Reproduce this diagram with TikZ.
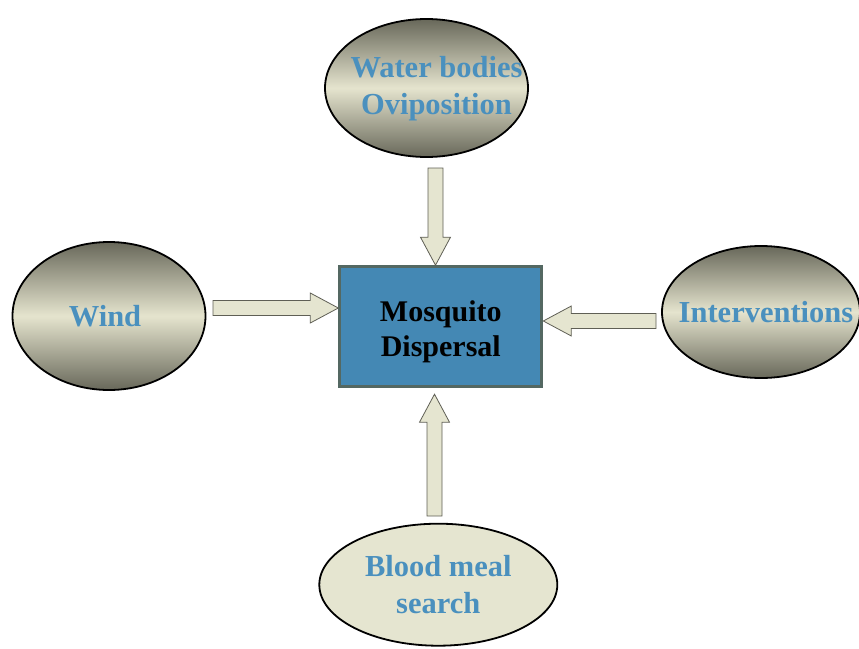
\documentclass[tikz,border=0pt]{standalone}
\usepackage{fontspec}
\setmainfont{Liberation Serif}
\usetikzlibrary{positioning, calc, shapes.geometric}
\definecolor{mdark}{RGB}{104,104,90}
\definecolor{mlight}{RGB}{229,228,206}
\definecolor{mcream}{RGB}{229,229,208}
\definecolor{mbox}{RGB}{68,136,180}
\definecolor{mrim}{RGB}{84,104,98}
\definecolor{mtext}{RGB}{74,144,190}
\definecolor{medge}{RGB}{95,95,85}

% block arrow from #1 (tail) to #2 (tip)
\newcommand{\fatarrow}[2]{%
  \coordinate (fa-h) at ($(#2)!28pt!(#1)$);
  \draw[fatarrow] ($(#1)!7.5pt!90:(#2)$) -- ($(fa-h)!7.5pt!-90:(#1)$)
    -- ($(fa-h)!15pt!-90:(#1)$) -- (#2) -- ($(fa-h)!15pt!90:(#1)$)
    -- ($(fa-h)!7.5pt!90:(#1)$) -- ($(#1)!7.5pt!-90:(#2)$) -- cycle;}

\begin{document}
\begin{tikzpicture}[x=1pt, y=-1pt,
    factor/.style={ellipse, draw=black, line width=1.8pt, inner sep=0pt},
    shaded/.style={factor, top color=mdark, bottom color=mdark, middle color=mlight},
    flat/.style={factor, fill=mcream},
    lbl/.style={align=center, text=mtext, font=\bfseries\fontsize{30.5}{37}\selectfont},
    fatarrow/.style={fill=mcream, draw=medge, line width=0.8pt},
    hub/.style={draw=mrim, fill=mbox, line width=3pt, minimum width=202pt,
      minimum height=120pt},
    hubtext/.style={align=center, font=\bfseries\fontsize{30}{35}\selectfont}]
  \useasboundingbox (0,0) rectangle (859,648);

  % the four factors
  \node[shaded, minimum width=203pt, minimum height=138pt,
    label={[lbl, xshift=10pt, yshift=-1pt]center:{Water bodies\\Oviposition}}] (water) at (426.5,88) {};
  \node[shaded, minimum width=193pt, minimum height=148pt,
    label={[lbl, xshift=-4pt]center:Wind}] (wind) at (109,316) {};
  \node[shaded, minimum width=198pt, minimum height=132pt,
    label={[lbl, xshift=5pt]center:Interventions}] (interv) at (761,312) {};
  \node[flat, minimum width=238pt, minimum height=122pt,
    label={[lbl]center:{Blood meal\\search}}] (blood) at (438.3,584.7) {};

  % the hub
  \node[hub, label={[hubtext, yshift=-5pt]center:{Mosquito\\Dispersal}}] (box) at (440.8,326.7) {};

  % arrow ends
  \coordinate (watertail) at (435.5,168);
  \coordinate (watertip) at (watertail |- box.north);
  \coordinate (windtail) at (213,308);
  \coordinate (windtip) at (windtail -| box.west);
  \coordinate (inttail) at (656,321);
  \coordinate (inttip) at (inttail -| box.east);
  \coordinate (bloodtail) at (434.5,516);
  \coordinate (bloodtip) at ([yshift=-6pt]bloodtail |- box.south);

  \fatarrow{watertail}{watertip}
  \fatarrow{windtail}{windtip}
  \fatarrow{inttail}{inttip}
  \fatarrow{bloodtail}{bloodtip}
\end{tikzpicture}
\end{document}
